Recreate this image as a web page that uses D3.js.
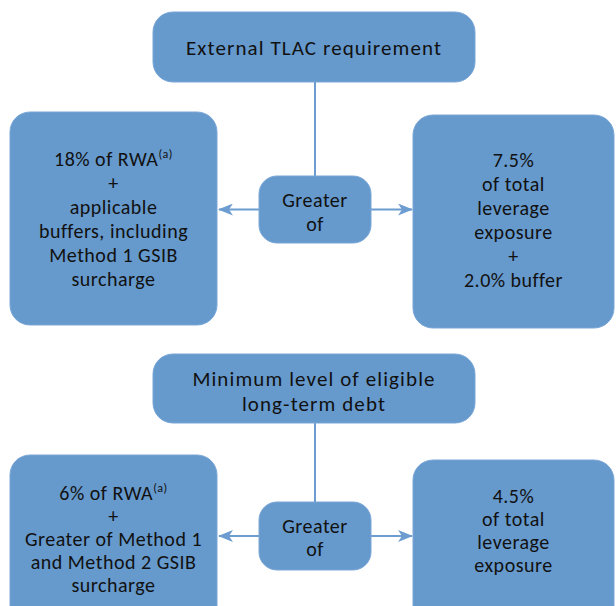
<!DOCTYPE html>
<html lang="en">
<head>
    <meta charset="utf-8">
    <title>TLAC and long-term debt requirements</title>
    <script src="https://d3js.org/d3.v7.min.js" charset="utf-8"></script>
    <style>
        body { margin: 0; background: #fff; }
        text { font-family: Carlito, Lato, "Open Sans", sans-serif; fill: #111; }
    </style>
</head>
<body>

<script>

// box labels, one array per box ("^" marks a superscript)
var tlacTitle = ["External TLAC requirement"]
var tlacLeft = ["18% of RWA^(a)", "+", "applicable", "buffers, including", "Method 1 GSIB", "surcharge"]
var tlacRight = ["7.5%", "of total", "leverage", "exposure", "+", "2.0% buffer"]
var ltdTitle = ["Minimum level of eligible", "long-term debt"]
var ltdLeft = ["6% of RWA^(a)", "+", "Greater of Method 1", "and Method 2 GSIB", "surcharge"]
var ltdRight = ["4.5%", "of total", "leverage", "exposure"]
var middleLabel = ["Greater", "of"]

var w = 616, h = 606
var fill = "#6699cc", lineColor = "#6d9dd0"

var svg = d3.select("body").append("svg").attr("width", w).attr("height", h)

svg.append("defs").append("marker")
    .attr("id", "arr").attr("viewBox", "0 0 15 12")
    .attr("refX", 14).attr("refY", 6)
    .attr("markerWidth", 15).attr("markerHeight", 12)
    .attr("markerUnits", "userSpaceOnUse").attr("orient", "auto")
    .append("path").attr("d", "M0,0 L15,6 L0,12 L4,6 Z").attr("fill", lineColor)

// layout of each section
var sections = [
    {title: tlacTitle, left: tlacLeft, right: tlacRight, lh: 24,
     top: {x: 153, y: 12, w: 322, h: 70, r: 20, cy: 47},
     lbox: {x: 10, y: 112, w: 207, h: 213, r: 20, cy: 219},
     mid: {x: 259, y: 176, w: 112, h: 67, r: 18, cy: 212},
     rbox: {x: 413, y: 115, w: 201, h: 213, r: 20, cy: 220}},
    {title: ltdTitle, left: ltdLeft, right: ltdRight, lh: 23,
     top: {x: 153, y: 354, w: 322, h: 69, r: 20, cy: 391},
     lbox: {x: 10, y: 455, w: 207, h: 180, r: 20, cy: 539},
     mid: {x: 259, y: 502, w: 112, h: 68, r: 18, cy: 537},
     rbox: {x: 413, y: 460, w: 201, h: 180, r: 20, cy: 530}}
]

function drawBox(b) {
    svg.append("rect").attr("x", b.x).attr("y", b.y).attr("width", b.w).attr("height", b.h)
        .attr("rx", b.r).attr("ry", b.r)
        .attr("fill", fill).attr("stroke", "#7aa7d8").attr("stroke-width", 1)
}

// one text element per box, one tspan per line
function drawText(b, lines, lh, size, spacing) {
    var cx = b.x + b.w / 2
    var y0 = b.cy - (lines.length - 1) * lh / 2
    var t = svg.append("text").attr("text-anchor", "middle")
        .attr("font-size", size).attr("letter-spacing", spacing)
    lines.forEach(function (s, i) {
        var parts = s.split("^")
        var ln = t.append("tspan").attr("x", cx).attr("y", y0 + i * lh + size * 0.36)
        ln.append("tspan").text(parts[0])
        if (parts[1]) {
            ln.append("tspan").attr("font-size", size * 0.6).attr("dy", -size * 0.42).text(parts[1])
        }
    })
}

sections.forEach(function (s) {
    var midX = s.mid.x + s.mid.w / 2
    var midY = s.mid.y + s.mid.h / 2

    // connector from title down to "Greater of"
    svg.append("line").attr("x1", midX).attr("x2", midX)
        .attr("y1", s.top.y + s.top.h).attr("y2", s.mid.y)
        .attr("stroke", lineColor).attr("stroke-width", 2)

    // arrows out to both sides
    svg.append("line").attr("x1", s.mid.x).attr("x2", s.lbox.x + s.lbox.w + 2)
        .attr("y1", midY).attr("y2", midY)
        .attr("stroke", lineColor).attr("stroke-width", 2).attr("marker-end", "url(#arr)")
    svg.append("line").attr("x1", s.mid.x + s.mid.w).attr("x2", s.rbox.x - 1)
        .attr("y1", midY).attr("y2", midY)
        .attr("stroke", lineColor).attr("stroke-width", 2).attr("marker-end", "url(#arr)")

    drawBox(s.top); drawBox(s.lbox); drawBox(s.mid); drawBox(s.rbox)

    drawText(s.top, s.title, 25.5, 21, 1.1)
    drawText(s.lbox, s.left, s.lh, 20, 0.5)
    drawText(s.mid, middleLabel, s.lh, 20, 0.5)
    drawText(s.rbox, s.right, s.lh, 20, 0.5)
})

</script>

</body>
</html>
